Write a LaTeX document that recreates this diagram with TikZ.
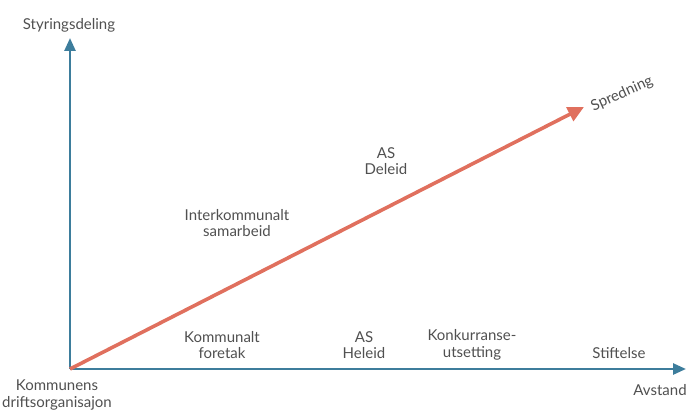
\documentclass[tikz,border=0pt]{standalone}
\usepackage{fontspec}
\setmainfont{Lato}
\usetikzlibrary{arrows.meta}
\definecolor{axisblue}{HTML}{3D7D9C}
\definecolor{arrowred}{HTML}{E0705E}
\definecolor{txt}{HTML}{505050}
\begin{document}
\begin{tikzpicture}[x=1pt,y=-1pt,
  lbl/.style={text=txt,font=\fontsize{15}{16.5}\selectfont,align=center,inner sep=0pt},
  axis/.style={draw=axisblue,line width=2.6pt,-{Triangle[length=13pt,width=11pt]}},
  spread/.style={draw=arrowred,line width=3.6pt,-{Triangle[length=16pt,width=15pt]}}]
\useasboundingbox (0,0) rectangle (690,412);
\coordinate (o) at (70,369);
\coordinate (ytip) at (70,38);
\coordinate (xtip) at (686,369);
\coordinate (rtip) at (584,107);
\draw[axis] (o) -- (ytip);
\draw[axis] (o) -- (xtip);
\draw[spread] (o) -- (rtip);
\node[lbl] (sty) at (69,25) {Styringsdeling};
\node[lbl] (kom) at (57,395) {Kommunens\\driftsorganisajon};
\node[lbl] (avs) at (660,390) {Avstand};
\node[lbl] (sti) at (619,353) {Stiftelse};
\node[lbl] (kon) at (472,345) {Konkurranse-\\utsetting};
\node[lbl] (ash) at (364,345) {AS\\Heleid};
\node[lbl] (kf) at (222,345) {Kommunalt\\foretak};
\node[lbl] (int) at (237,223) {Interkommunalt\\samarbeid};
\node[lbl] (asd) at (386,161) {AS\\Deleid};
\node[lbl,rotate=24] (spr) at (622,94) {Spredning};
\end{tikzpicture}
\end{document}
